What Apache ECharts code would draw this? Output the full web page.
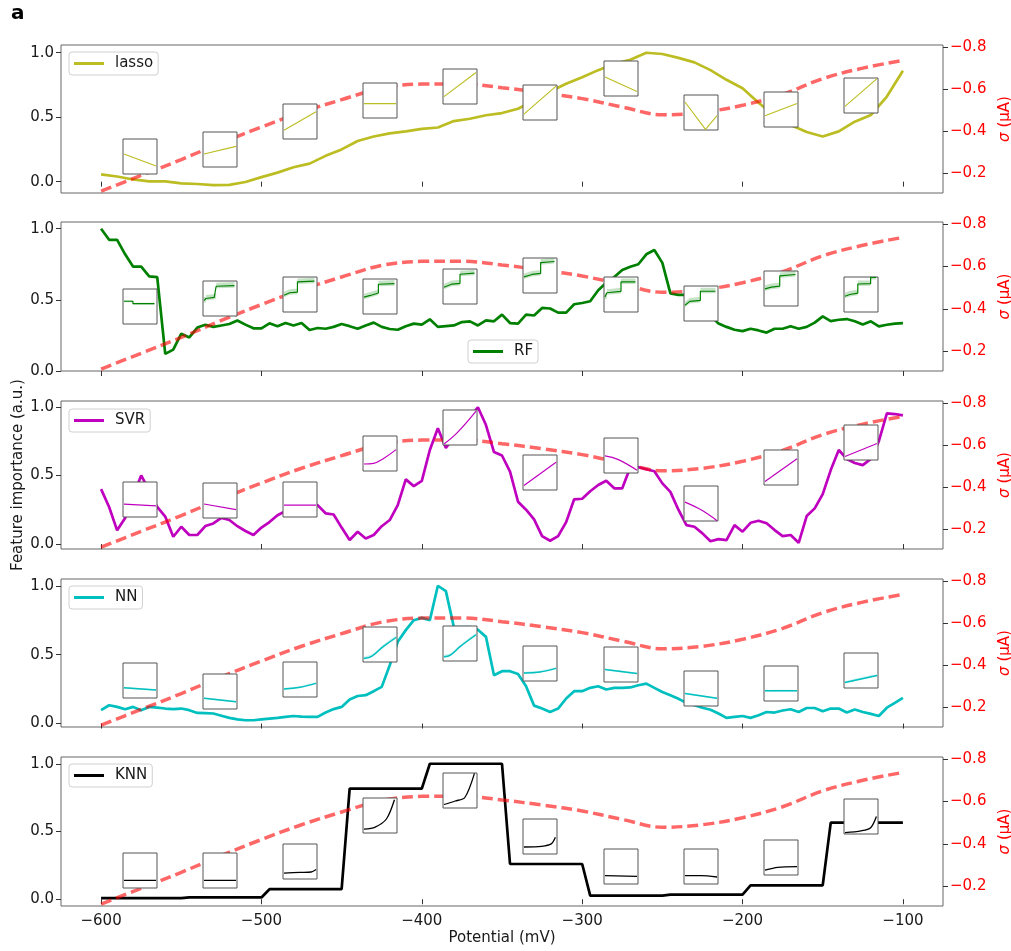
<!DOCTYPE html>
<html>
<head>
<meta charset="utf-8">
<script src="https://cdn.jsdelivr.net/npm/echarts@6/dist/echarts.min.js"></script>
<style>
  html, body { margin: 0; padding: 0; background: #fff; }
  #chart { width: 1011px; height: 951px; }
</style>
</head>
<body>
<div id="chart"></div>
<script>
// ---------------- data ----------------
// membrane potential grids (mV)
const potential10 = Array.from({ length: 51 }, (_, i) => -600 + 10 * i);
const potential5 = Array.from({ length: 101 }, (_, i) => -600 + 5 * i);

// conductance-like sigma curve (µA), shared by every panel
const sigmaPotential = [-600, -575, -550, -525, -500, -475, -450, -425, -400, -375, -350,
  -325, -300, -275, -250, -225, -200, -175, -150, -125, -100];
const sigma = [-0.115, -0.19, -0.265, -0.345, -0.42, -0.49, -0.55, -0.605, -0.624, -0.625, -0.607,
  -0.583, -0.555, -0.515, -0.478, -0.49, -0.523, -0.575, -0.65, -0.70, -0.737];

// feature importance per model
const lasso = [0.057, 0.04, 0.017, 0.002, 0.002, -0.014, -0.018, -0.027, -0.025, -0.003,
  0.035, 0.07, 0.112, 0.14, 0.2, 0.25, 0.315, 0.35, 0.375, 0.39,
  0.41, 0.42, 0.47, 0.488, 0.515, 0.532, 0.565, 0.63, 0.70, 0.76,
  0.81, 0.865, 0.915, 0.945, 1.0, 0.99, 0.96, 0.925, 0.865, 0.79,
  0.725, 0.612, 0.51, 0.44, 0.385, 0.35, 0.39, 0.465, 0.517, 0.66, 0.86];

const rf = [1.0, 0.922, 0.922, 0.82, 0.733, 0.733, 0.665, 0.66, 0.12, 0.15,
  0.262, 0.236, 0.305, 0.325, 0.31, 0.32, 0.33, 0.355, 0.326, 0.3,
  0.3, 0.335, 0.314, 0.337, 0.32, 0.337, 0.288, 0.302, 0.297, 0.31,
  0.33, 0.315, 0.297, 0.32, 0.34, 0.31, 0.295, 0.29, 0.315, 0.333,
  0.326, 0.363, 0.31, 0.315, 0.32, 0.344, 0.349, 0.32, 0.356, 0.349,
  0.396, 0.337, 0.333, 0.396, 0.39, 0.443, 0.439, 0.41, 0.41, 0.469,
  0.478, 0.49, 0.568, 0.62, 0.66, 0.71, 0.733, 0.75, 0.82, 0.85,
  0.76, 0.545, 0.535, 0.535, 0.52, 0.47, 0.39, 0.333, 0.31, 0.29,
  0.28, 0.297, 0.285, 0.27, 0.297, 0.297, 0.314, 0.297, 0.31, 0.34,
  0.384, 0.35, 0.36, 0.365, 0.35, 0.326, 0.349, 0.314, 0.325, 0.333,
  0.337];

const svr = [0.40, 0.27, 0.10, 0.19, 0.35, 0.50, 0.39, 0.27, 0.20, 0.053,
  0.126, 0.066, 0.066, 0.131, 0.15, 0.19, 0.175, 0.13, 0.095, 0.066,
  0.12, 0.16, 0.21, 0.24, 0.27, 0.29, 0.29, 0.284, 0.224, 0.215,
  0.12, 0.03, 0.09, 0.041, 0.066, 0.13, 0.175, 0.284, 0.471, 0.422,
  0.46, 0.685, 0.843, 0.70, 0.78, 0.86, 0.93, 0.996, 0.867, 0.67,
  0.645, 0.527, 0.308, 0.25, 0.18, 0.058, 0.024, 0.058, 0.16, 0.326,
  0.33, 0.385, 0.43, 0.461, 0.406, 0.406, 0.56, 0.56, 0.545, 0.53,
  0.442, 0.38, 0.25, 0.138, 0.126, 0.078, 0.02, 0.036, 0.029, 0.138,
  0.09, 0.155, 0.17, 0.151, 0.102, 0.058, 0.066, 0.009, 0.204, 0.26,
  0.364, 0.539, 0.685, 0.62, 0.59, 0.575, 0.62, 0.75, 0.952, 0.947,
  0.937];

const nn = [0.097, 0.133, 0.121, 0.104, 0.121, 0.097, 0.121, 0.116, 0.109, 0.105,
  0.109, 0.097, 0.077, 0.075, 0.073, 0.057, 0.041, 0.03, 0.024, 0.024,
  0.03, 0.036, 0.041, 0.048, 0.055, 0.05, 0.048, 0.048, 0.08, 0.105,
  0.121, 0.174, 0.2, 0.206, 0.235, 0.266, 0.423, 0.593, 0.678, 0.75,
  0.767, 0.75, 1.0, 0.961, 0.70, 0.70, 0.70, 0.68, 0.629, 0.351,
  0.38, 0.38, 0.36, 0.27, 0.13, 0.109, 0.084, 0.109, 0.182, 0.235,
  0.235, 0.259, 0.271, 0.247, 0.259, 0.259, 0.262, 0.278, 0.29, 0.259,
  0.229, 0.206, 0.18, 0.15, 0.133, 0.115, 0.1, 0.073, 0.041, 0.048,
  0.055, 0.041, 0.06, 0.084, 0.08, 0.095, 0.104, 0.084, 0.113, 0.113,
  0.089, 0.109, 0.109, 0.08, 0.102, 0.084, 0.07, 0.055, 0.115, 0.15,
  0.186];

// KNN importance is constant within each 50 mV window
const knnWindowStart = [-600, -550, -500, -450, -400, -350, -300, -250, -200, -150];
const knnWindowValue = [0.008, 0.013, 0.074, 0.816, 1.0, 0.26, 0.027, 0.034, 0.103, 0.565];

// response curves shown in the small boxes, normalised [x, y] within each box
const lassoInsets = [
  [[0, 0.57], [1, 0.23]], [[0, 0.37], [1, 0.59]], [[0, 0.25], [1, 0.78]], [[0, 0.41], [1, 0.41]],
  [[0, 0.21], [1, 0.90]], [[0, 0.17], [1, 0.97]], [[0, 0.54], [1, 0.13]],
  [[0, 0.80], [0.64, 0.02], [1, 0.41]], [[0, 0.32], [1, 0.67]], [[0, 0.19], [1, 0.98]]
];
const rfInsets = [
  [[0, 0.65], [0.28, 0.65], [0.28, 0.58], [0.95, 0.58]],
  [[0, 0.44], [0.06, 0.44], [0.06, 0.5], [0.32, 0.53], [0.38, 0.56], [0.38, 0.85], [0.95, 0.87]],
  [[0, 0.48], [0.18, 0.55], [0.42, 0.57], [0.42, 0.86], [0.95, 0.88]],
  [[0, 0.48], [0.2, 0.53], [0.45, 0.6], [0.45, 0.85], [0.95, 0.87]],
  [[0, 0.48], [0.25, 0.57], [0.5, 0.59], [0.5, 0.85], [0.95, 0.88]],
  [[0, 0.46], [0.25, 0.53], [0.52, 0.56], [0.52, 0.87], [0.95, 0.9]],
  [[0, 0.43], [0.06, 0.43], [0.06, 0.55], [0.5, 0.59], [0.5, 0.86], [0.95, 0.86]],
  [[0, 0.45], [0.15, 0.56], [0.48, 0.59], [0.48, 0.85], [0.95, 0.85]],
  [[0, 0.49], [0.2, 0.54], [0.46, 0.57], [0.46, 0.86], [0.95, 0.9]],
  [[0, 0.45], [0.15, 0.5], [0.4, 0.54], [0.4, 0.8], [0.8, 0.81], [0.8, 0.99], [0.97, 0.99]]
];
const rfInsetSpread = [[0.03, 0.03], [0.06, 0.1], [0.06, 0.1], [0.06, 0.1], [0.06, 0.1],
  [0.06, 0.1], [0.06, 0.1], [0.06, 0.1], [0.06, 0.1], [0.06, 0.1]];
const svrInsets = [
  [[0, 0.37], [1, 0.32]], [[0, 0.40], [1, 0.24]], [[0, 0.34], [1, 0.34]],
  [[0, 0.2], [0.3, 0.22], [0.6, 0.35], [1, 0.61]], [[0, 0.03], [0.4, 0.34], [1, 0.97]],
  [[0, 0.13], [1, 0.79]], [[0, 0.49], [0.4, 0.39], [1, 0.08]], [[0, 0.54], [0.5, 0.32], [1, 0.01]],
  [[0, 0.1], [1, 0.75]], [[0, 0.1], [1, 0.47]]
];
const nnInsets = [
  [[0, 0.29], [1, 0.23]], [[0, 0.31], [1, 0.21]], [[0, 0.23], [0.5, 0.28], [1, 0.39]],
  [[0, 0.1], [0.25, 0.17], [0.6, 0.44], [1, 0.7]], [[0, 0.12], [0.2, 0.17], [0.5, 0.41], [1, 0.75]],
  [[0, 0.23], [0.5, 0.26], [1, 0.36]], [[0, 0.36], [1, 0.24]], [[0, 0.36], [1, 0.22]],
  [[0, 0.29], [1, 0.29]], [[0, 0.16], [1, 0.36]]
];
const nnInsetSpread = [[0.02, 0.02], [0.02, 0.02], [0.02, 0.03], [0.03, 0.05], [0.03, 0.05],
  [0.02, 0.03], [0.02, 0.02], [0.02, 0.02], [0.02, 0.02], [0.02, 0.03]];
const knnInsets = [
  [[0, 0.22], [1, 0.22]], [[0, 0.22], [1, 0.22]], [[0, 0.17], [0.5, 0.19], [0.85, 0.2], [1, 0.27]],
  [[0, 0.11], [0.35, 0.17], [0.7, 0.4], [0.95, 0.95]], [[0, 0.1], [0.35, 0.2], [0.65, 0.3], [0.95, 0.99]],
  [[0, 0.2], [0.55, 0.22], [0.85, 0.29], [0.98, 0.48]], [[0, 0.24], [1, 0.22]],
  [[0, 0.24], [0.5, 0.24], [1, 0.2]], [[0, 0.14], [0.4, 0.22], [1, 0.24]],
  [[0, 0.04], [0.5, 0.09], [0.8, 0.18], [0.98, 0.5]]
];

// tick labels
const potentialTicks = [-600, -500, -400, -300, -200, -100];
const importanceTicks = [0, 0.5, 1];
const sigmaTicks = [-0.8, -0.6, -0.4, -0.2];

// ---------------- layout ----------------
const PLOT_LEFT = 61, PLOT_WIDTH = 882;
const PANEL_TOP = [45, 222, 401, 579, 757];
const PANEL_HEIGHT = [148, 149, 148, 148, 149];
const IMPORTANCE_RANGE = [[-0.088, 1.06], [0, 1.047], [-0.036, 1.042], [-0.025, 1.049], [-0.05, 1.05]];
const SIGMA_RANGE = [-0.81, -0.106];
const INSET_W = 34, INSET_H = 35;
const INSET_CENTRE_X = [-576, -526, -476, -426, -376, -326, -276, -226, -176, -126];
const INSET_CENTRE_Y = [
  [0.194, 0.247, 0.464, 0.627, 0.736, 0.614, 0.797, 0.540, 0.557, 0.666],
  [0.454, 0.509, 0.536, 0.527, 0.593, 0.671, 0.539, 0.475, 0.582, 0.535],
  [0.324, 0.317, 0.324, 0.657, 0.846, 0.520, 0.645, 0.293, 0.561, 0.737],
  [0.311, 0.233, 0.318, 0.572, 0.578, 0.436, 0.430, 0.256, 0.289, 0.387],
  [0.210, 0.215, 0.276, 0.621, 0.805, 0.463, 0.239, 0.245, 0.310, 0.611]
];

const FONT = 'DejaVu Sans';
const FS = 15;
const SPINE = '#666';
const INK = '#1a1a1a';

function knnSteps() {
  const pts = [];
  knnWindowStart.forEach((s, i) => {
    pts.push([i === 0 ? s : s + 5, knnWindowValue[i]]);
    pts.push([s + 50, knnWindowValue[i]]);
  });
  return pts;
}

const models = [
  { name: 'lasso', color: '#bcbd22', points: potential10.map((x, i) => [x, lasso[i]]),
    insets: lassoInsets, spread: null, insetWidth: 1.1, insetSmooth: false, legend: [69, 52] },
  { name: 'RF', color: '#008000', points: potential5.map((x, i) => [x, rf[i]]),
    insets: rfInsets, spread: rfInsetSpread, insetWidth: 1.2, insetSmooth: false, legend: [468, 340] },
  { name: 'SVR', color: '#bf00bf', points: potential5.map((x, i) => [x, svr[i]]),
    insets: svrInsets, spread: null, insetWidth: 1.2, insetSmooth: 0.4, legend: [69, 409] },
  { name: 'NN', color: '#00bfbf', points: potential5.map((x, i) => [x, nn[i]]),
    insets: nnInsets, spread: nnInsetSpread, insetWidth: 1.5, insetSmooth: 0.4, legend: [69, 586] },
  { name: 'KNN', color: '#000000', points: knnSteps(),
    insets: knnInsets, spread: null, insetWidth: 1.3, insetSmooth: 0.3, legend: [69, 764] }
];

const minus = v => (v < 0 ? '\u2212' : '') + Math.abs(v);

function buildOption(insetRects) {
  const grid = [], xAxis = [], yAxis = [], series = [], legend = [];

  models.forEach((m, p) => {
    const last = p === models.length - 1;
    grid.push({ left: PLOT_LEFT, top: PANEL_TOP[p], width: PLOT_WIDTH, height: PANEL_HEIGHT[p],
      outerBoundsMode: 'none', containLabel: false,
      show: true, borderColor: SPINE, borderWidth: 1, backgroundColor: 'transparent', z: 0 });
    xAxis.push({
      gridIndex: p, type: 'value', min: -625, max: -75,
      axisLine: { show: false }, splitLine: { show: false },
      axisTick: { show: true, customValues: potentialTicks, length: 5, lineStyle: { color: '#333' } },
      axisLabel: { show: last, customValues: potentialTicks, margin: 8, fontFamily: FONT, fontSize: FS, color: INK,
        formatter: v => minus(v) },
      name: last ? 'Potential (mV)' : '', nameLocation: 'middle', nameGap: 25,
      nameTextStyle: { fontFamily: FONT, fontSize: FS, color: INK }
    });
    yAxis.push({
      gridIndex: p, type: 'value', position: 'left',
      min: IMPORTANCE_RANGE[p][0], max: IMPORTANCE_RANGE[p][1],
      axisLine: { show: false }, splitLine: { show: false },
      axisTick: { show: true, customValues: importanceTicks, length: 5, lineStyle: { color: '#333' } },
      axisLabel: { customValues: importanceTicks, margin: 7, fontFamily: FONT, fontSize: FS, color: INK,
        formatter: v => v.toFixed(1) }
    });
    yAxis.push({
      gridIndex: p, type: 'value', position: 'right', inverse: true,
      min: SIGMA_RANGE[0], max: SIGMA_RANGE[1],
      axisLine: { show: false }, splitLine: { show: false },
      axisTick: { show: true, customValues: sigmaTicks, length: 5, lineStyle: { color: '#333' } },
      axisLabel: { customValues: sigmaTicks, margin: 7, fontFamily: FONT, fontSize: FS, color: '#ff0000',
        formatter: v => (v < 0 ? '\u2212' : '') + Math.abs(v).toFixed(1) },
      name: '{s|\u03c3} (\u03bcA)', nameLocation: 'middle', nameRotate: 90, nameGap: 49,
      nameTextStyle: { fontFamily: FONT, fontSize: FS, color: '#ff0000',
        rich: { s: { fontFamily: FONT, fontSize: FS, color: '#ff0000', fontStyle: 'italic' } } }
    });

    series.push({
      type: 'line', name: m.name, xAxisIndex: p, yAxisIndex: 2 * p, data: m.points,
      symbol: 'none', showSymbol: false, z: 3,
      lineStyle: { color: m.color, width: 2.7 }, itemStyle: { color: m.color }
    });
    series.push({
      type: 'line', name: 'sigma ' + p, xAxisIndex: p, yAxisIndex: 2 * p + 1,
      data: sigmaPotential.map((x, i) => [x, sigma[i]]), smooth: 0.35,
      symbol: 'none', showSymbol: false, z: 4,
      lineStyle: { color: 'rgba(255,0,0,0.6)', width: 3.5, type: [11, 5] }
    });

    legend.push({
      data: [m.name], left: m.legend[0], top: m.legend[1], orient: 'horizontal',
      icon: 'rect', itemWidth: 30, itemHeight: 3, padding: [4, 5, 4, 5],
      backgroundColor: 'rgba(255,255,255,0.85)', borderColor: '#d0d0d0', borderWidth: 1, borderRadius: 3,
      selectedMode: false, z: 30,
      textStyle: { fontFamily: FONT, fontSize: FS, color: INK, padding: [0, 0, 0, 6] }
    });
  });

  if (insetRects) {
    models.forEach((m, p) => {
      m.insets.forEach((curve, k) => {
        const g = grid.length;
        const r = insetRects[p][k];
        grid.push({ left: r.left, top: r.top, width: INSET_W, height: INSET_H, show: true,
          outerBoundsMode: 'none', containLabel: false,
          backgroundColor: '#ffffff', borderColor: '#555', borderWidth: 1, z: 20 });
        const xi = xAxis.length, yi = yAxis.length;
        xAxis.push({ gridIndex: g, type: 'value', min: -0.03, max: 1.03, show: false });
        yAxis.push({ gridIndex: g, type: 'value', min: 0, max: 1, show: false });
        if (m.spread) {
          const [below, above] = m.spread[k];
          series.push({
            type: 'custom', xAxisIndex: xi, yAxisIndex: yi, data: [[0, 0]], silent: true, z: 21,
            renderItem: (params, api) => {
              const upper = curve.map(([x, y]) => api.coord([x, Math.min(1, y + above)]));
              const lower = curve.slice().reverse().map(([x, y]) => api.coord([x, Math.max(0, y - below)]));
              return { type: 'polygon', shape: { points: upper.concat(lower), smooth: m.insetSmooth ? 0.3 : 0 },
                style: { fill: m.color, opacity: 0.22 } };
            }
          });
        }
        series.push({
          type: 'line', name: m.name + ' response ' + k, xAxisIndex: xi, yAxisIndex: yi,
          data: curve, symbol: 'none', showSymbol: false, z: 22, silent: true,
          smooth: m.insetSmooth,
          lineStyle: { color: m.color, width: m.insetWidth }
        });
      });
    });
  }

  return {
    animation: false,
    backgroundColor: '#ffffff',
    textStyle: { fontFamily: FONT },
    grid, xAxis, yAxis, series, legend,
    graphic: [
      { type: 'text', left: 11, top: 4, z: 40,
        style: { text: 'a', fontFamily: FONT, fontSize: 20, fontWeight: 'bold', fill: '#000' } },
      { type: 'text', x: 18, y: 475, rotation: Math.PI / 2, z: 40,
        style: { text: 'Feature importance (a.u.)', fontFamily: FONT, fontSize: FS, fill: INK,
          textAlign: 'center', textVerticalAlign: 'middle' } }
    ]
  };
}

const chart = echarts.init(document.getElementById('chart'), null, { renderer: 'canvas' });
chart.setOption(buildOption(null));

// place each response box around its anchor, using the panel's own axes
const insetRects = models.map((m, p) => INSET_CENTRE_X.map((x, k) => {
  const [cx, cy] = chart.convertToPixel({ xAxisIndex: p, yAxisIndex: 2 * p }, [x, INSET_CENTRE_Y[p][k]]);
  return { left: Math.round(cx - INSET_W / 2), top: Math.round(cy - INSET_H / 2) };
}));
chart.setOption(buildOption(insetRects), true);
</script>
</body>
</html>
